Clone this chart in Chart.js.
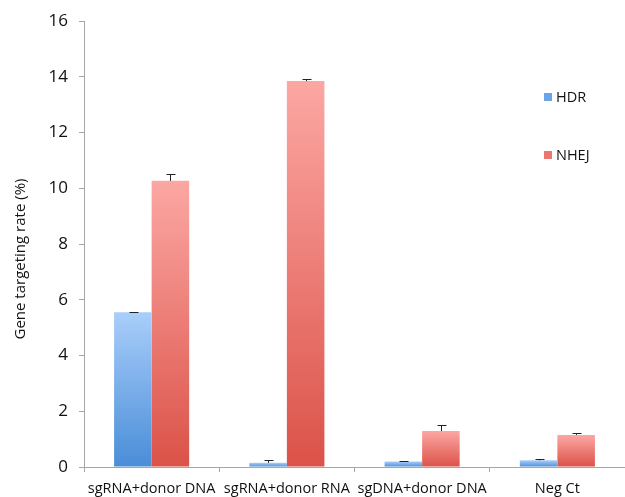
<!DOCTYPE html>
<html>
<head>
<meta charset="utf-8">
<script src="https://cdn.jsdelivr.net/npm/chart.js@4/dist/chart.umd.min.js"></script>
<style>
html,body{margin:0;padding:0;background:#fff;}
#wrap{width:625px;height:497px;position:relative;}
</style>
</head>
<body>
<div id="wrap"><canvas id="c" width="625" height="497"></canvas></div>
<script>
const categories = ["sgRNA+donor DNA", "sgRNA+donor RNA", "sgDNA+donor DNA", "Neg Ct"];
const hdrValues = [5.55, 0.15, 0.2, 0.24];
const hdrErrors = [0.02, 0.1, 0.03, 0.04];
const nhejValues = [10.27, 13.85, 1.29, 1.15];
const nhejErrors = [0.26, 0.07, 0.21, 0.08];
const yTicks = [0, 2, 4, 6, 8, 10, 12, 14, 16];
const yTitle = "Gene targeting rate (%)";

const FONT = "'Open Sans', sans-serif";

function gradFill(top, bottom) {
  return function(ctx) {
    const chart = ctx.chart;
    const area = chart.chartArea;
    if (!area || ctx.type !== 'data') return bottom;
    const y = chart.scales.y;
    const yTop = y.getPixelForValue(ctx.raw);
    const yBot = y.getPixelForValue(0);
    if (!isFinite(yTop) || !isFinite(yBot) || yBot - yTop < 1) return bottom;
    const g = chart.ctx.createLinearGradient(0, yTop, 0, yBot);
    g.addColorStop(0, top);
    g.addColorStop(1, bottom);
    return g;
  };
}

const errorBars = {
  id: 'errorBars',
  afterDatasetsDraw(chart) {
    const c = chart.ctx;
    const y = chart.scales.y;
    c.save();
    c.strokeStyle = '#222';
    c.lineWidth = 1;
    chart.data.datasets.forEach((ds, di) => {
      const meta = chart.getDatasetMeta(di);
      meta.data.forEach((bar, i) => {
        const v = ds.data[i], e = ds.errors[i];
        const x = Math.round(bar.x) + 0.5;
        const y0 = y.getPixelForValue(v);
        const y1 = Math.round(y.getPixelForValue(v + e)) + 0.5;
        c.beginPath();
        c.moveTo(x, y0);
        c.lineTo(x, y1);
        c.moveTo(x - 4, y1);
        c.lineTo(x + 5, y1);
        c.stroke();
      });
    });
    c.restore();
  }
};

const customLegend = {
  id: 'customLegend',
  afterDraw(chart) {
    const c = chart.ctx;
    const items = [
      {label: chart.data.datasets[0].label, color: chart.data.datasets[0].legendColor, y: 97},
      {label: chart.data.datasets[1].label, color: chart.data.datasets[1].legendColor, y: 155}
    ];
    c.save();
    c.font = "14.5px " + FONT;
    c.textBaseline = 'middle';
    items.forEach(it => {
      c.fillStyle = it.color;
      c.fillRect(544, it.y - 4, 8, 8);
      c.fillStyle = '#111';
      c.fillText(it.label, 556, it.y + 1);
    });
    c.restore();
  }
};

const axisTitle = {
  id: 'axisTitle',
  afterDraw(chart) {
    const c = chart.ctx;
    c.save();
    c.translate(21, 259);
    c.rotate(-Math.PI / 2);
    c.font = "15px " + FONT;
    c.fillStyle = '#111';
    c.textAlign = 'center';
    c.textBaseline = 'middle';
    c.fillText(yTitle, 0, 0);
    c.restore();
  }
};

new Chart(document.getElementById('c'), {
  type: 'bar',
  data: {
    labels: categories,
    datasets: [
      {label: 'HDR', data: hdrValues, errors: hdrErrors, legendColor: '#6aa5ea',
       backgroundColor: gradFill('#a9cefa', '#4a8dd8'), borderWidth: 0},
      {label: 'NHEJ', data: nhejValues, errors: nhejErrors, legendColor: '#ea7772',
       backgroundColor: gradFill('#fca7a3', '#db5248'), borderWidth: 0}
    ]
  },
  options: {
    responsive: false,
    animation: false,
    devicePixelRatio: 1,
    layout: {padding: {top: 21, right: -7, bottom: 0, left: 0}},
    datasets: {bar: {categoryPercentage: 0.555, barPercentage: 1.0}},
    plugins: {legend: {display: false}, tooltip: {enabled: false}},
    scales: {
      x: {
        grid: {display: true, drawOnChartArea: false, offset: true, color: '#a6a6a6', tickLength: 5, tickColor: '#a6a6a6'},
        border: {display: true, color: '#a6a6a6'},
        ticks: {color: '#111', font: {family: FONT, size: 14.5}, padding: 8, maxRotation: 0, autoSkip: false},
        afterFit(s) { s.height = 30; }
      },
      y: {
        min: 0, max: 16,
        afterBuildTicks(s) { s.ticks = yTicks.map(v => ({value: v})); },
        grid: {display: true, drawOnChartArea: false, color: '#a6a6a6', tickLength: 5, tickColor: '#a6a6a6'},
        border: {display: true, color: '#a6a6a6'},
        ticks: {color: '#111', font: {family: FONT, size: 17}, padding: 11},
        afterFit(s) { s.width = 84; }
      }
    }
  },
  plugins: [errorBars, customLegend, axisTitle]
});
</script>
</body>
</html>
